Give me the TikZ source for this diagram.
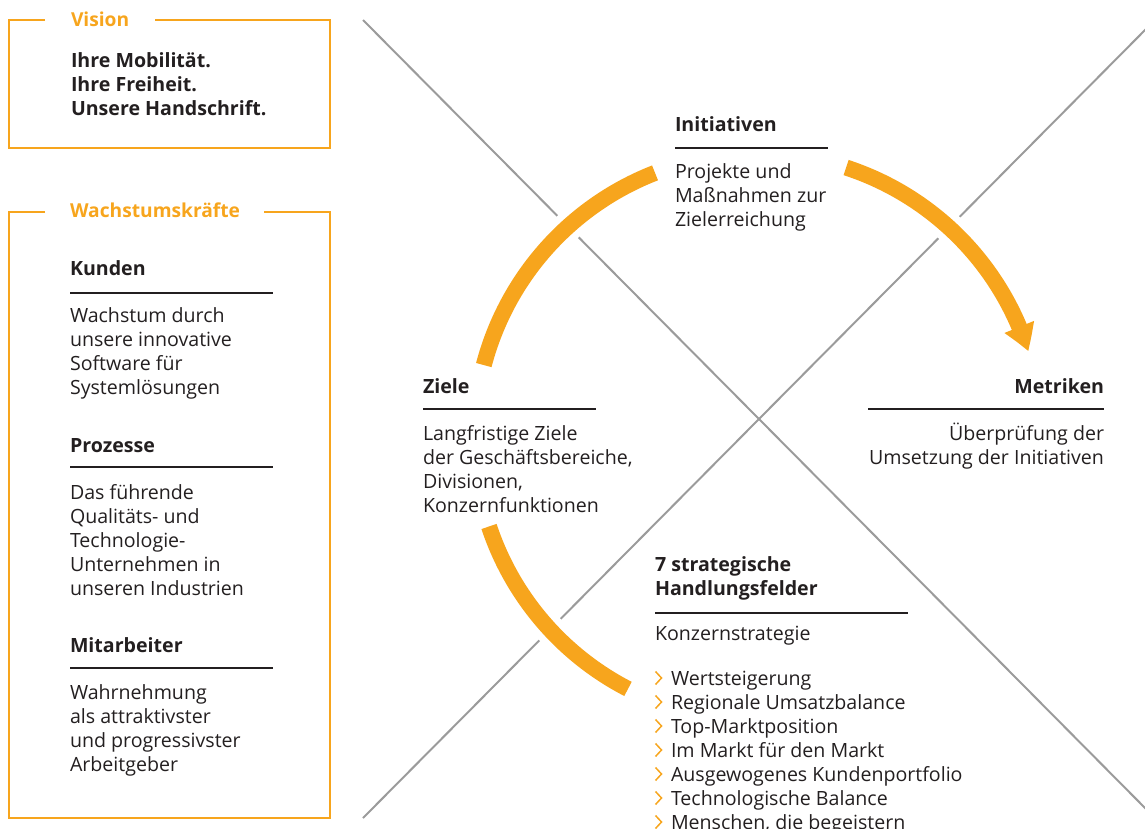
\documentclass[tikz,border=0pt]{standalone}
\usepackage{fontspec}
\setmainfont{Open Sans}
\usetikzlibrary{arrows.meta,bending}
\definecolor{org}{HTML}{F7A51D}
\definecolor{txt}{HTML}{231F20}
\definecolor{ln}{HTML}{9B9B9B}
\begin{document}
\begin{tikzpicture}[x=1pt,y=-1pt,
  every node/.style={inner sep=0pt, outer sep=0pt, text=txt},
  body/.style={font=\fontsize{19.6}{24}\selectfont, align=left, anchor=base west},
  bodyr/.style={font=\fontsize{19.6}{24}\selectfont, align=right, anchor=base east},
  head/.style={font=\fontsize{19.6}{24}\selectfont\bfseries, align=left, anchor=base west},
  headr/.style={font=\fontsize{19.6}{24}\selectfont\bfseries, anchor=base east},
  ttl/.style={font=\fontsize{19.2}{24}\selectfont\bfseries, text=org, anchor=base west},
  rulestyle/.style={draw=txt, line width=1.3pt},
  frame/.style={draw=org, line width=2pt},
  cross/.style={draw=ln, line width=2pt},
  band/.style={draw=org, line width=16pt},
  halo/.style={draw=white, line width=30pt},
  chev/.style={draw=org, line width=1.5pt}]
\useasboundingbox (0,0) rectangle (1145,829);
\clip (0,0) rectangle (1145,829);

% cross lines
\coordinate (l1a) at (363,20);
\coordinate (l1b) at (1150,813);
\coordinate (l2a) at (1150,25);
\coordinate (l2b) at (363,818);
\draw[cross] (l1a) -- (l1b);
\draw[cross] (l2a) -- (l2b);

% circle arcs
\coordinate (C) at (758,437);
\draw[halo] ([shift={(165.3:283.5pt)}]C) arc[start angle=165.3, end angle=111.3, radius=283.5pt];
\draw[halo] ([shift={(71.9:283.5pt)}]C) arc[start angle=71.9, end angle=24, radius=283.5pt];
\draw[halo] ([shift={(198.4:283.5pt)}]C) arc[start angle=198.4, end angle=242.7, radius=283.5pt];
\draw[band] ([shift={(165.3:283.5pt)}]C) arc[start angle=165.3, end angle=111.3, radius=283.5pt];
\draw[band, -{Triangle[length=26pt, width=30pt, bend]}] ([shift={(71.9:283.5pt)}]C) arc[start angle=71.9, end angle=17.6, radius=283.5pt];
\draw[band] ([shift={(198.4:283.5pt)}]C) arc[start angle=198.4, end angle=242.7, radius=283.5pt];

% Vision box (multi-line nodes: base = last line's baseline)
\node[ttl] (vt) at (71,27) {Vision};
\draw[frame] (45,20) -- (9,20) -- (9,148) -- (330,148) -- (330,20) -- (155,20);
\node[head] (vb) at (71,116) {Ihre Mobilität.\\Ihre Freiheit.\\Unsere Handschrift.};

% Wachstumskraefte box
\node[ttl] (wt) at (70,217) {Wachstumskräfte};
\draw[frame] (45,212) -- (9,212) -- (9,818) -- (330,818) -- (330,212) -- (264,212);

\node[head] (kh) at (70,275) {Kunden};
\draw[rulestyle] (70,293) -- (273,293);
\node[body] (kb) at (70,394) {Wachstum durch\\unsere innovative\\Software für\\Systemlösungen};

\node[head] (ph) at (70,452) {Prozesse};
\draw[rulestyle] (70,467) -- (273,467);
\node[body] (pb) at (70,595) {Das führende\\Qualitäts- und\\Technologie-\\Unternehmen in\\unseren Industrien};

\node[head] (mh) at (70,652) {Mitarbeiter};
\draw[rulestyle] (70,668) -- (273,668);
\node[body] (mb) at (70,771) {Wahrnehmung\\als attraktivster\\und progressivster\\Arbeitgeber};

% Initiativen
\node[head] (ih) at (675,132) {Initiativen};
\draw[rulestyle] (675,148) -- (828,148);
\node[body] (ib) at (675,226) {Projekte und\\Maßnahmen zur\\Zielerreichung};

% Ziele
\node[head] (zh) at (423,393) {Ziele};
\draw[rulestyle] (423,409) -- (596,409);
\node[body] (zb) at (423,512) {Langfristige Ziele\\der Geschäftsbereiche,\\Divisionen,\\Konzernfunktionen};

% Metriken
\node[headr] (mth) at (1104,393) {Metriken};
\draw[rulestyle] (868,409) -- (1104,409);
\node[bodyr] (mtb) at (1104,464) {Überprüfung der\\Umsetzung der Initiativen};

% Handlungsfelder
\node[head] (hh) at (655,595) {7 strategische\\Handlungsfelder};
\draw[rulestyle] (655,613) -- (908,613);
\node[body] (hk) at (655,640) {Konzernstrategie};
\foreach \t [count=\i from 0] in {Wertsteigerung,Regionale Umsatzbalance,Top-Marktposition,Im Markt für den Markt,Ausgewogenes Kundenportfolio,Technologische Balance,{Menschen, die begeistern}}{
  \draw[chev] (655.5,{671.5+24*\i}) -- (661.5,{678+24*\i}) -- (655.5,{684.5+24*\i});
  \node[body] (li\i) at (671,{685+24*\i}) {\t};
}
\end{tikzpicture}
\end{document}
